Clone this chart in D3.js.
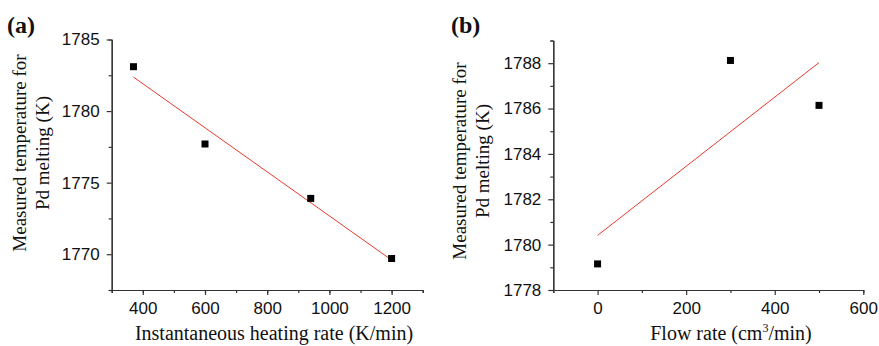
<!DOCTYPE html>
<html>
<head>
<meta charset="utf-8">
<script src="https://cdn.jsdelivr.net/npm/d3@7"></script>
<style>
  body { margin: 0; background: #fff; }
  svg { display: block; }
  .tick text { font-family: "Liberation Sans", Arial, sans-serif; font-size: 17px; fill: #111; }
  .title { font-family: "Liberation Serif", "Times New Roman", serif; font-size: 19px; fill: #111; }
  .panel-label { font-family: "Liberation Serif", "Times New Roman", serif; font-size: 24px; font-weight: bold; fill: #111; }
</style>
</head>
<body>
<svg id="chart" width="879" height="346"></svg>
<script>
// panel (a): heating rate vs melting temperature
const rateX = [370, 600, 940, 1200]
const rateY = [1783.1, 1777.7, 1773.9, 1769.7]
const rateTicksX = [400, 600, 800, 1000, 1200]
const rateTicksY = [1770, 1775, 1780, 1785]

// panel (b): flow rate vs melting temperature
const flowX = [0, 300, 500]
const flowY = [1779.15, 1788.12, 1786.14]
const flowTicksX = [0, 200, 400, 600]
const flowTicksY = [1778, 1780, 1782, 1784, 1786, 1788]

const svg = d3.select('#chart')

function linearFit(xs, ys) {
  const mx = d3.mean(xs)
  const my = d3.mean(ys)
  let sxy = 0, sxx = 0
  xs.forEach((x, i) => {
    sxy += (x - mx) * (ys[i] - my)
    sxx += (x - mx) * (x - mx)
  })
  const slope = sxy / sxx
  return x => my + slope * (x - mx)
}

function drawPanel(p) {
  const g = svg.append('g')
  const x = d3.scaleLinear().domain(p.xDomain).range([p.left, p.right])
  const y = d3.scaleLinear().domain(p.yDomain).range([p.bottom, p.top])

  // minor ticks first, majors drawn over them
  g.append('g')
    .attr('transform', `translate(0,${p.bottom})`)
    .call(d3.axisBottom(x).tickValues(p.xMinor).tickSize(3).tickFormat(''))
  g.append('g')
    .attr('transform', `translate(${p.left},0)`)
    .call(d3.axisLeft(y).tickValues(p.yMinor).tickSize(3).tickFormat(''))

  const xAxis = g.append('g')
    .attr('transform', `translate(0,${p.bottom})`)
    .call(d3.axisBottom(x).tickValues(p.xTicks).tickSize(5).tickSizeOuter(0).tickPadding(5).tickFormat(d3.format('d')))
  g.append('g')
    .attr('transform', `translate(${p.left},0)`)
    .call(d3.axisLeft(y).tickValues(p.yTicks).tickSize(5).tickSizeOuter(0).tickPadding(7).tickFormat(d3.format('d')))

  g.selectAll('.domain, .tick line').attr('stroke', '#333').attr('stroke-width', 1.2)
  xAxis.selectAll('.tick text').attr('dy', '0.8em')

  // fit line
  const fit = linearFit(p.xs, p.ys)
  const ends = d3.extent(p.xs)
  g.append('line')
    .attr('x1', x(ends[0])).attr('y1', y(fit(ends[0])))
    .attr('x2', x(ends[1])).attr('y2', y(fit(ends[1])))
    .attr('stroke', '#e8392c')
    .attr('stroke-width', 1)

  // data points
  g.selectAll('rect.pt')
    .data(p.xs.map((v, i) => [v, p.ys[i]]))
    .join('rect')
    .attr('class', 'pt')
    .attr('x', d => x(d[0]) - 3.5)
    .attr('y', d => y(d[1]) - 3.5)
    .attr('width', 7)
    .attr('height', 7)
    .attr('fill', '#000')

  // axis titles
  const xt = g.append('text')
    .attr('class', 'title')
    .attr('x', p.xTitleX)
    .attr('y', 340)
    .attr('text-anchor', 'middle')
    .style('font-size', '20px')
  p.xTitle.forEach(part => {
    const s = xt.append('tspan').text(part.t)
    if (part.sup) s.attr('font-size', '12px').attr('dy', '-8')
    if (part.after) s.attr('dy', '8')
  })

  const yt = g.append('text')
    .attr('class', 'title')
    .attr('transform', `translate(${p.yTitleX},${p.yTitleY}) rotate(-90)`)
    .attr('text-anchor', 'middle')
  yt.append('tspan').attr('x', 0).attr('dy', 0).text('Measured temperature for')
  yt.append('tspan').attr('x', 0).attr('dy', 23).text('Pd melting (K)')

  g.append('text')
    .attr('class', 'panel-label')
    .attr('x', p.labelX)
    .attr('y', 33)
    .text(p.label)
}

drawPanel({
  label: '(a)', labelX: 7,
  xs: rateX, ys: rateY,
  xDomain: [300, 1300], yDomain: [1767.5, 1785],
  left: 111.7, right: 422.7, top: 39.5, bottom: 290,
  xTicks: rateTicksX, yTicks: rateTicksY,
  xMinor: d3.range(300, 1301, 100), yMinor: [1767.5, 1772.5, 1777.5, 1782.5],
  xTitle: [{ t: 'Instantaneous heating rate (K/min)' }], xTitleX: 274,
  yTitleX: 26, yTitleY: 153
})

drawPanel({
  label: '(b)', labelX: 451,
  xs: flowX, ys: flowY,
  xDomain: [-100, 600], yDomain: [1778, 1789],
  left: 553.3, right: 863.3, top: 40.5, bottom: 290,
  xTicks: flowTicksX, yTicks: flowTicksY,
  xMinor: [-100, 100, 300, 500], yMinor: [1779, 1781, 1783, 1785, 1787, 1789],
  xTitle: [{ t: 'Flow rate (cm' }, { t: '3', sup: true }, { t: '/min)', after: true }], xTitleX: 731,
  yTitleX: 466, yTitleY: 161
})
</script>
</body>
</html>
